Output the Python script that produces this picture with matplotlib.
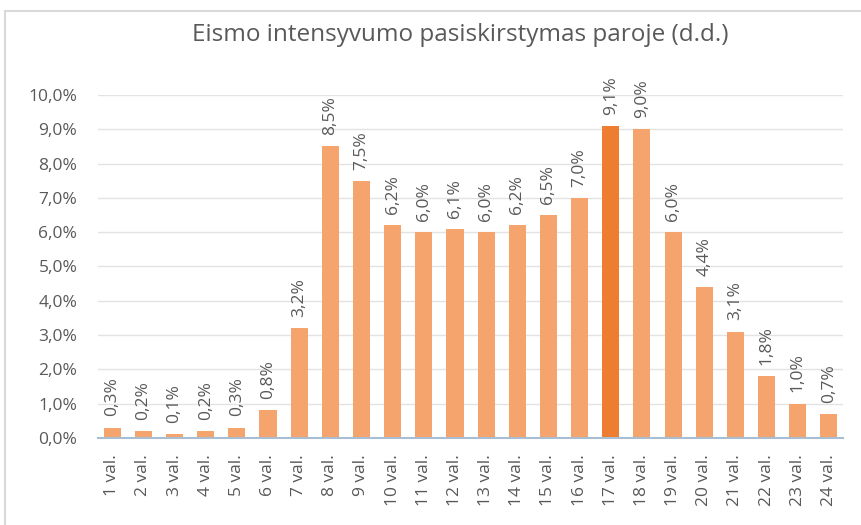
import matplotlib
matplotlib.use("Agg")
import matplotlib.pyplot as plt
from matplotlib.patches import Rectangle

# valandos ir eismo dalis (%)
valandos = [f"{i} val." for i in range(1, 25)]
dalis = [0.3, 0.2, 0.1, 0.2, 0.3, 0.8, 3.2, 8.5, 7.5, 6.2, 6.0, 6.1,
         6.0, 6.2, 6.5, 7.0, 9.1, 9.0, 6.0, 4.4, 3.1, 1.8, 1.0, 0.7]
piko_valanda = "17 val."

plt.rcParams['font.family'] = ['Open Sans', 'DejaVu Sans']
teksto_spalva = "#595959"

fig = plt.figure(figsize=(8.61, 5.25), dpi=100)
fig.patches.append(Rectangle((0.006, -0.05), 1.1, 1.03, transform=fig.transFigure,
                             fill=False, edgecolor="#D9D9D9", linewidth=1.5))

ax = fig.add_axes([0.114, 0.166, 0.865, 0.653])
spalvos = ["#ED7D31" if v == piko_valanda else "#F4A46C" for v in valandos]
x = range(len(valandos))
ax.bar(x, dalis, width=0.55, color=spalvos, zorder=3)

for xi, v in zip(x, dalis):
    ax.annotate(f"{v:.1f}%".replace(".", ","), (xi, v), xytext=(0, 8),
                textcoords="offset points", rotation=90, ha="center", va="bottom",
                fontsize=12.5, color=teksto_spalva, annotation_clip=False)

ax.set_ylim(0, 10)
ax.set_xlim(-0.45, 23.45)
ax.set_yticks([i for i in range(11)])
ax.set_yticklabels([f"{i},0%" for i in range(11)], fontsize=12.5, color=teksto_spalva)
ax.set_xticks(list(x))
ax.set_xticklabels(valandos, rotation=90, fontsize=12.5, color=teksto_spalva)
ax.tick_params(axis="y", length=0, pad=15)
ax.tick_params(axis="x", length=0, pad=12)
ax.grid(axis="y", color="#E3E3E3", linewidth=1, zorder=0)
for s in ["top", "right", "left"]:
    ax.spines[s].set_visible(False)
ax.spines["bottom"].set_color("#A9BDD3")
ax.spines["bottom"].set_linewidth(1.5)
ax.spines["bottom"].set_zorder(4)

fig.text(0.534, 0.933, "Eismo intensyvumo pasiskirstymas paroje (d.d.)",
         ha="center", va="center", fontsize=17.5, color=teksto_spalva)

fig.savefig("out.png", dpi=100)
